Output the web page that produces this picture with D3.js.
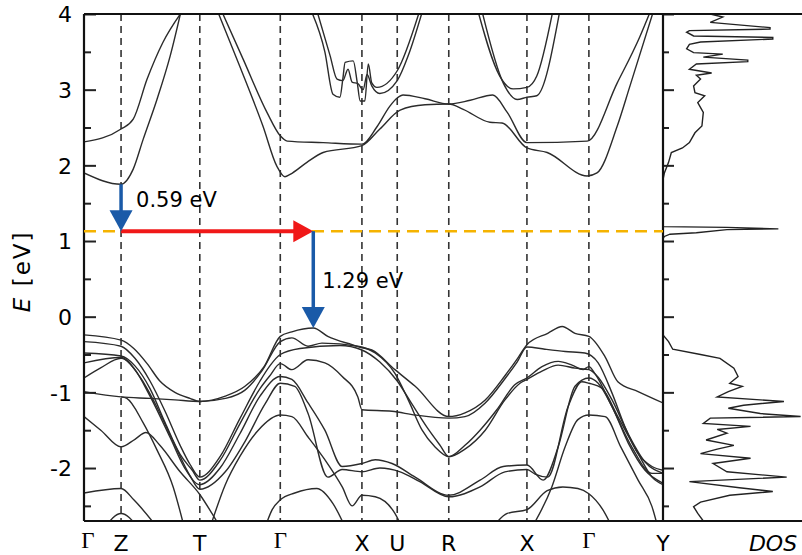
<!DOCTYPE html>
<html>
<head>
<meta charset="utf-8">
<script src="https://cdn.jsdelivr.net/npm/d3@7"></script>
<style>
  body { margin: 0; background: #fff; }
  text { font-family: "DejaVu Sans", sans-serif; }
</style>
</head>
<body>
<div id="chart"></div>
<script>
// k-path (fraction of total path length) and labels
var kPoints = [0, 0.064, 0.200, 0.339, 0.480, 0.541, 0.630, 0.765, 0.872, 1.0];
var kLabels = ["Γ", "Z", "T", "Γ", "X", "U", "R", "X", "Γ", "Y"];

var yMajor = [-2, -1, 0, 1, 2, 3, 4];
var yMinor = [-2.5, -1.5, -0.5, 0.5, 1.5, 2.5, 3.5];

// defect level and transitions
var defectLevel = 1.13;
var redArrow = [0.064, 0.396];           // k from, k to (at defect level)
var blueArrows = [[0.064, 1.75, 1.13], [0.396, 1.13, -0.15]]; // k, E from, E to
var arrowLabels = ["0.59 eV", "1.29 eV"];

// bands: [k, E]
var valenceBands = [
  [[0,-0.24],[0.064,-0.31],[0.086,-0.42],[0.109,-0.62],[0.131,-0.85],[0.157,-1.00],[0.183,-1.08],[0.200,-1.12],[0.244,-1.05],[0.278,-0.92],[0.311,-0.66],[0.339,-0.26],[0.359,-0.20],[0.396,-0.15],[0.421,-0.26],[0.463,-0.37],[0.480,-0.41],[0.497,-0.44],[0.537,-0.70],[0.572,-0.92],[0.630,-1.32],[0.658,-1.27],[0.693,-1.10],[0.727,-0.78],[0.748,-0.56],[0.765,-0.37],[0.801,-0.22],[0.826,-0.13],[0.848,-0.22],[0.872,-0.26],[0.900,-0.53],[0.922,-0.86],[0.957,-0.99],[1.000,-1.14]],
  [[0,-0.33],[0.064,-0.39],[0.088,-0.55],[0.114,-0.85],[0.140,-1.25],[0.166,-1.70],[0.183,-1.95],[0.200,-2.12],[0.235,-1.85],[0.269,-1.35],[0.304,-0.85],[0.321,-0.65],[0.339,-0.50],[0.373,-0.42],[0.442,-0.38],[0.480,-0.44],[0.511,-0.60],[0.541,-0.85],[0.566,-1.15],[0.594,-1.48],[0.615,-1.70],[0.630,-1.85],[0.658,-1.75],[0.693,-1.50],[0.727,-1.10],[0.753,-0.88],[0.765,-0.83],[0.791,-0.72],[0.819,-0.64],[0.848,-0.68],[0.872,-0.70],[0.888,-0.80],[0.912,-1.10],[0.940,-1.55],[0.969,-1.92],[1.000,-2.07]],
  [[0,-0.48],[0.064,-0.52],[0.088,-0.65],[0.114,-0.95],[0.140,-1.40],[0.166,-1.82],[0.187,-2.03],[0.200,-2.16],[0.235,-1.90],[0.269,-1.42],[0.304,-0.95],[0.321,-0.78],[0.339,-0.62],[0.359,-0.70],[0.387,-0.57],[0.416,-0.61],[0.446,-0.79],[0.473,-1.06],[0.480,-1.23],[0.532,-1.25],[0.572,-1.30],[0.630,-1.34],[0.658,-1.32],[0.693,-1.14],[0.727,-0.82],[0.748,-0.60],[0.765,-0.40],[0.796,-0.43],[0.831,-0.46],[0.865,-0.48],[0.888,-0.61],[0.912,-1.01],[0.934,-1.45],[0.957,-1.81],[0.981,-1.98],[1.000,-2.03]],
  [[0,-0.61],[0.064,-0.54],[0.088,-0.70],[0.114,-1.05],[0.149,-1.60],[0.174,-2.00],[0.200,-2.22],[0.235,-2.00],[0.269,-1.55],[0.304,-1.05],[0.339,-0.79],[0.359,-0.83],[0.387,-1.14],[0.416,-1.50],[0.446,-1.98],[0.480,-1.94],[0.503,-1.89],[0.532,-1.94],[0.572,-2.12],[0.630,-2.36],[0.684,-2.16],[0.724,-1.98],[0.765,-1.96],[0.793,-2.16],[0.819,-1.72],[0.848,-0.92],[0.872,-0.81],[0.888,-0.88],[0.912,-1.19],[0.940,-1.67],[0.969,-2.03],[1.000,-2.20]],
  [[0,-0.81],[0.028,-0.68],[0.064,-0.55],[0.097,-0.80],[0.123,-1.15],[0.157,-1.70],[0.183,-2.10],[0.200,-2.28],[0.244,-2.05],[0.278,-1.65],[0.313,-1.15],[0.339,-0.88],[0.364,-0.92],[0.387,-1.28],[0.421,-2.12],[0.446,-2.02],[0.480,-2.05],[0.511,-2.00],[0.546,-2.05],[0.580,-2.18],[0.630,-2.38],[0.684,-2.25],[0.727,-2.05],[0.765,-2.02],[0.779,-2.08],[0.801,-2.12],[0.836,-1.19],[0.860,-0.86],[0.872,-0.88],[0.895,-0.95],[0.922,-1.32],[0.957,-1.81],[0.981,-2.12],[1.000,-2.22]],
  [[0,-0.99],[0.064,-1.06],[0.114,-1.08],[0.157,-1.10],[0.200,-1.12],[0.244,-1.08],[0.278,-0.97],[0.307,-0.72],[0.339,-0.33],[0.359,-0.28],[0.387,-0.39],[0.411,-0.35],[0.473,-0.39],[0.503,-0.48],[0.537,-0.75],[0.560,-1.10],[0.584,-1.50],[0.606,-1.72],[0.630,-1.85],[0.658,-1.70],[0.684,-1.50],[0.713,-1.23],[0.744,-0.90],[0.765,-0.81],[0.791,-0.66],[0.819,-0.59],[0.843,-0.64],[0.862,-0.70],[0.872,-0.66],[0.883,-0.76],[0.912,-1.19],[0.946,-1.72],[0.981,-2.07],[1.000,-2.07]],
  [[0,-1.32],[0.029,-1.50],[0.064,-1.72],[0.088,-1.62],[0.107,-1.53],[0.131,-1.70],[0.166,-2.05],[0.200,-2.35],[0.221,-2.60],[0.235,-2.78]],
  [[0.064,-1.06],[0.074,-1.08],[0.102,-1.40],[0.126,-1.76],[0.154,-2.25],[0.173,-2.78]],
  [[0,-2.33],[0.064,-2.27],[0.086,-2.42],[0.126,-2.78]],
  [[0.036,-2.78],[0.064,-2.60],[0.093,-2.78]],
  [[0.218,-2.78],[0.244,-2.22],[0.269,-1.85],[0.301,-1.50],[0.339,-1.30],[0.359,-1.32],[0.387,-1.59],[0.416,-1.89],[0.446,-2.25],[0.463,-2.50],[0.480,-2.36],[0.503,-2.38],[0.537,-2.60],[0.549,-2.78]],
  [[0.313,-2.78],[0.325,-2.55],[0.339,-2.42],[0.364,-2.33],[0.402,-2.27],[0.430,-2.47],[0.451,-2.78]],
  [[0.706,-2.78],[0.731,-2.60],[0.765,-2.55],[0.800,-2.30],[0.827,-2.25],[0.853,-2.27],[0.872,-2.34],[0.896,-2.55],[0.912,-2.78]],
  [[0.774,-2.78],[0.808,-2.25],[0.831,-1.72],[0.853,-1.36],[0.872,-1.30],[0.900,-1.32],[0.927,-1.72],[0.957,-2.16],[0.981,-2.51],[0.991,-2.78]]
];

var conductionBands = [
  [[0,1.90],[0.064,1.75],[0.085,1.95],[0.102,2.34],[0.126,2.87],[0.149,3.45],[0.168,4.05]],
  [[0,2.31],[0.064,2.48],[0.085,2.61],[0.109,3.14],[0.136,3.62],[0.171,4.05]],
  [[0.230,4.05],[0.269,3.31],[0.309,2.52],[0.333,1.99],[0.347,1.85],[0.356,1.88],[0.385,2.04],[0.413,2.17],[0.480,2.26],[0.511,2.48],[0.546,2.73],[0.589,2.80],[0.630,2.81],[0.655,2.74],[0.701,2.57],[0.722,2.56],[0.765,2.23],[0.800,2.17],[0.869,1.86],[0.886,1.90],[0.921,2.52],[0.943,3.05],[0.984,4.05]],
  [[0.237,4.05],[0.275,3.40],[0.316,2.70],[0.339,2.39],[0.351,2.32],[0.413,2.30],[0.480,2.28],[0.506,2.51],[0.528,2.78],[0.541,2.89],[0.551,2.93],[0.589,2.88],[0.630,2.81],[0.667,2.86],[0.706,2.93],[0.731,2.70],[0.765,2.30],[0.869,2.32],[0.921,3.09],[0.960,3.70],[0.979,4.05]],
  [[0.392,4.05],[0.416,3.50],[0.430,2.94],[0.442,2.90],[0.447,3.14],[0.451,3.36],[0.465,3.38],[0.472,3.09],[0.477,2.85],[0.485,2.85],[0.491,3.34],[0.497,3.09],[0.506,3.03],[0.541,3.25],[0.580,4.05]],
  [[0.402,4.05],[0.425,3.45],[0.437,3.14],[0.447,3.12],[0.456,3.27],[0.463,3.10],[0.473,3.08],[0.482,3.00],[0.489,3.20],[0.497,3.05],[0.511,2.95],[0.541,3.12],[0.560,3.45],[0.585,4.05]],
  [[0.680,4.05],[0.718,3.18],[0.741,3.01],[0.765,3.03],[0.782,3.18],[0.810,4.05]],
  [[0.687,4.05],[0.724,3.09],[0.748,2.87],[0.765,2.90],[0.782,2.92],[0.822,4.05]]
];

// density of states (arbitrary units)
var dosEnergy = [4.00,3.96,3.89,3.82,3.80,3.78,3.76,3.71,3.69,3.67,3.63,3.60,3.54,3.49,3.47,3.43,3.39,3.37,3.34,3.27,3.22,3.19,3.14,3.05,2.96,2.92,2.83,2.70,2.52,2.43,2.30,2.23,2.17,2.04,1.90,1.81,
  1.19,1.18,1.16,1.15,1.11,1.09,1.06,1.03,
  -0.24,-0.33,-0.43,-0.50,-0.55,-0.68,-0.79,-0.88,-0.92,-0.99,-1.06,-1.12,-1.17,-1.21,-1.28,-1.32,-1.34,-1.41,-1.45,-1.49,-1.54,-1.63,-1.70,-1.75,-1.81,-1.87,-1.94,-2.05,-2.12,-2.18,-2.26,-2.31,-2.36,-2.45,-2.51,-2.60,-2.70];
var dosValue = [0.34,0.43,0.34,0.77,0.77,0.19,0.17,0.22,0.79,0.79,0.27,0.19,0.17,0.22,0.43,0.29,0.61,0.61,0.24,0.19,0.35,0.24,0.27,0.22,0.23,0.30,0.25,0.29,0.28,0.23,0.19,0.14,0.06,0.04,0.01,0,
  0,0.46,0.83,0.46,0.24,0.05,0.01,0,
  0,0.04,0.07,0.27,0.41,0.51,0.54,0.48,0.57,0.47,0.39,0.87,0.58,0.47,0.70,0.99,0.34,0.29,0.63,0.39,0.46,0.31,0.51,0.39,0.27,0.63,0.36,0.46,0.89,0.19,0.55,0.79,0.48,0.27,0.22,0.25,0.29];

var W = 802, H = 555;
var margin = {top: 14, right: 0, bottom: 34, left: 84};
var bandRight = 663;

var svg = d3.select("#chart").append("svg")
    .attr("width", W)
    .attr("height", H);

var x = d3.scaleLinear().domain([0, 1]).range([margin.left, bandRight]);
var y = d3.scaleLinear().domain([-2.7, 4]).range([H - margin.bottom, margin.top]);
var xDos = d3.scaleLinear().domain([0, 1]).range([bandRight, W]);

var defs = svg.append("defs");
defs.append("clipPath").attr("id", "bandClip").append("rect")
    .attr("x", margin.left).attr("y", margin.top)
    .attr("width", bandRight - margin.left).attr("height", y(-2.7) - y(4));
defs.append("clipPath").attr("id", "dosClip").append("rect")
    .attr("x", bandRight).attr("y", margin.top)
    .attr("width", W - bandRight).attr("height", y(-2.7) - y(4));

// high symmetry dashed lines
svg.append("g").selectAll("line")
    .data(kPoints.slice(1, -1))
    .enter().append("line")
    .attr("x1", function(d) { return x(d); })
    .attr("x2", function(d) { return x(d); })
    .attr("y1", y(4)).attr("y2", y(-2.7))
    .attr("stroke", "#333")
    .attr("stroke-width", 1.6)
    .attr("stroke-dasharray", "7,5");

// bands
var line = d3.line()
    .x(function(d) { return x(d[0]); })
    .y(function(d) { return y(d[1]); })
    .curve(d3.curveMonotoneX);

var bands = svg.append("g").attr("clip-path", "url(#bandClip)");
bands.selectAll("path.band")
    .data(valenceBands.concat(conductionBands))
    .enter().append("path")
    .attr("class", "band")
    .attr("d", line)
    .attr("fill", "none")
    .attr("stroke", "#2b2b2b")
    .attr("stroke-width", 1.4);

// DOS
var dosLine = d3.line()
    .x(function(d) { return xDos(d[1]); })
    .y(function(d) { return y(d[0]); });
svg.append("g").attr("clip-path", "url(#dosClip)")
    .append("path")
    .datum(dosEnergy.map(function(e, i) { return [e, dosValue[i]]; }))
    .attr("d", dosLine)
    .attr("fill", "none")
    .attr("stroke", "#222")
    .attr("stroke-width", 1.4);

// axes: left (ticks pointing inward)
var leftAxis = svg.append("g")
    .attr("transform", "translate(" + margin.left + ",0)")
    .call(d3.axisLeft(y).tickValues(yMajor).tickSize(-12).tickPadding(12)
        .tickFormat(function(d) { return String(d); }));
leftAxis.select(".domain").remove();
leftAxis.selectAll("text").style("font-size", "22px").attr("fill", "#000").attr("dy", "0.36em");
leftAxis.selectAll("line").attr("stroke", "#222").attr("stroke-width", 2);

var leftMinor = svg.append("g")
    .attr("transform", "translate(" + margin.left + ",0)")
    .call(d3.axisLeft(y).tickValues(yMinor).tickSize(-7).tickFormat(""));
leftMinor.select(".domain").remove();
leftMinor.selectAll("line").attr("stroke", "#222").attr("stroke-width", 2);

// DOS axis ticks
var dosAxis = svg.append("g")
    .attr("transform", "translate(" + bandRight + ",0)")
    .call(d3.axisRight(y).tickValues(yMajor).tickSize(11).tickFormat(""));
dosAxis.select(".domain").remove();
dosAxis.selectAll("line").attr("stroke", "#222").attr("stroke-width", 2);
var dosMinor = svg.append("g")
    .attr("transform", "translate(" + bandRight + ",0)")
    .call(d3.axisRight(y).tickValues(yMinor).tickSize(6).tickFormat(""));
dosMinor.select(".domain").remove();
dosMinor.selectAll("line").attr("stroke", "#222").attr("stroke-width", 2);

// frame
var frame = svg.append("g").attr("stroke", "#111").attr("stroke-width", 2.2);
frame.append("line").attr("x1", margin.left).attr("x2", W).attr("y1", y(4)).attr("y2", y(4));
frame.append("line").attr("x1", margin.left).attr("x2", W).attr("y1", y(-2.7)).attr("y2", y(-2.7));
frame.append("line").attr("x1", margin.left).attr("x2", margin.left).attr("y1", y(4)).attr("y2", y(-2.7));
frame.append("line").attr("x1", bandRight).attr("x2", bandRight).attr("y1", y(4)).attr("y2", y(-2.7));

// defect level
svg.append("line")
    .attr("x1", x(0)).attr("x2", x(1))
    .attr("y1", y(defectLevel)).attr("y2", y(defectLevel))
    .attr("stroke", "#f5b300")
    .attr("stroke-width", 2.5)
    .attr("stroke-dasharray", "12,7");

// arrows
function arrow(x1, y1, x2, y2, color, width, headLen, headW) {
    var dx = x2 - x1, dy = y2 - y1, len = Math.sqrt(dx * dx + dy * dy);
    var ux = dx / len, uy = dy / len;
    var bx = x2 - ux * headLen, by = y2 - uy * headLen;
    svg.append("line")
        .attr("x1", x1).attr("y1", y1).attr("x2", bx + ux).attr("y2", by + uy)
        .attr("stroke", color).attr("stroke-width", width);
    svg.append("path")
        .attr("d", "M" + x2 + "," + y2 +
            "L" + (bx - uy * headW / 2) + "," + (by + ux * headW / 2) +
            "L" + (bx + uy * headW / 2) + "," + (by - ux * headW / 2) + "Z")
        .attr("fill", color);
}

arrow(x(redArrow[0]), y(defectLevel), x(redArrow[1]), y(defectLevel), "#f01818", 4, 20, 22);
blueArrows.forEach(function(a) {
    arrow(x(a[0]), y(a[1]), x(a[0]), y(a[2]), "#1a5aa8", 3.5, 21, 23);
});

svg.append("text")
    .attr("x", x(blueArrows[0][0]) + 15)
    .attr("y", (y(blueArrows[0][1]) + y(blueArrows[0][2])) / 2 - 1)
    .style("font-size", "21px")
    .text(arrowLabels[0]);
svg.append("text")
    .attr("x", x(blueArrows[1][0]) + 9)
    .attr("y", (y(blueArrows[1][1]) + y(blueArrows[1][2])) / 2 + 8)
    .style("font-size", "21px")
    .text(arrowLabels[1]);

// k labels
svg.append("g").selectAll("text")
    .data(kLabels)
    .enter().append("text")
    .attr("x", function(d, i) { return x(kPoints[i]) + (i === 0 ? 4 : 0); })
    .attr("y", function(d) { return d === "Γ" ? 548 : 551; })
    .attr("text-anchor", "middle")
    .style("font-family", function(d) { return d === "Γ" ? "'Liberation Serif', serif" : null; })
    .style("font-size", function(d) { return d === "Γ" ? "23px" : "22px"; })
    .text(function(d) { return d; });

svg.append("text")
    .attr("x", 773).attr("y", 551)
    .attr("text-anchor", "middle")
    .style("font-size", "22px")
    .style("font-style", "italic")
    .text("DOS");

// y label
var yl = svg.append("text")
    .attr("transform", "translate(30," + y(0.6) + ") rotate(-90)")
    .attr("text-anchor", "middle")
    .style("font-size", "23px")
    .style("letter-spacing", "2px");
yl.append("tspan").style("font-style", "italic").text("E");
yl.append("tspan").text(" [eV]");
</script>
</body>
</html>
